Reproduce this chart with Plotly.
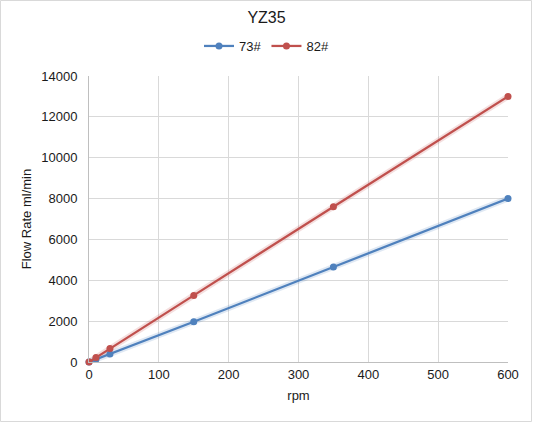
import plotly.graph_objects as go

rpm = [0, 10, 30, 150, 350, 600]
flow_73 = [0, 130, 390, 1970, 4650, 8000]
flow_82 = [0, 220, 660, 3260, 7600, 13000]
series_names = ["73#", "82#"]
colors = ["#4F81BD", "#C0504D"]
shadow_colors = ["rgba(79,129,189,0.18)", "rgba(192,80,77,0.18)"]

W, H = 533, 423
L, R, T, B = 89, 25, 76, 61
fig = go.Figure()
for ys, sc in zip([flow_73, flow_82], shadow_colors):
    fig.add_trace(go.Scatter(
        x=rpm, y=ys, mode="lines", showlegend=False, hoverinfo="skip",
        line=dict(color=sc, width=6), cliponaxis=False,
    ))
for name, ys, c in zip(series_names, [flow_73, flow_82], colors):
    fig.add_trace(go.Scatter(
        x=rpm, y=ys, mode="lines+markers", name=name,
        line=dict(color=c, width=2.25),
        marker=dict(color=c, size=7),
        cliponaxis=False,
    ))

pw, ph = W - L - R, H - T - B
font = "Liberation Sans, Arial, sans-serif"
fig.update_layout(
    width=W, height=H,
    margin=dict(l=L, r=R, t=T, b=B, autoexpand=False),
    paper_bgcolor="white", plot_bgcolor="white",
    font=dict(family=font, size=13, color="#1a1a1a"),
    title=dict(text="YZ35", x=0.5, xref="container", xanchor="center",
               y=1 - 17 / H, yref="container", yanchor="middle",
               font=dict(size=16, color="#1a1a1a")),
    legend=dict(orientation="h", x=0.5, xref="container", xanchor="center",
                y=1 - 46 / H, yref="container", yanchor="middle",
                font=dict(size=13), tracegroupgap=0, itemwidth=30),
    showlegend=True,
    shapes=[dict(type="rect", xref="paper", yref="paper",
                 x0=(-L + 0.5) / pw, x1=1 + (R - 1.5) / pw,
                 y0=(-B + 1.5) / ph, y1=1 + (T - 0.5) / ph,
                 line=dict(color="#D9D9D9", width=1), layer="below")],
)
fig.update_xaxes(range=[0, 600], dtick=100, showgrid=True, gridcolor="#D9D9D9",
                 showline=True, linecolor="#BFBFBF", zeroline=False,
                 ticks="", tickformat="d",
                 title=dict(text="rpm", standoff=10, font=dict(size=13)))
fig.update_yaxes(range=[0, 14000], dtick=2000, showgrid=True, gridcolor="#D9D9D9",
                 showline=True, linecolor="#BFBFBF", zeroline=False,
                 ticks="", tickformat="d", ticklabelstandoff=8,
                 title=dict(text="Flow Rate ml/min", standoff=6, font=dict(size=13)))
fig.write_html("out.html", config={"displayModeBar": False},
               post_script="document.body.style.margin='0';")
